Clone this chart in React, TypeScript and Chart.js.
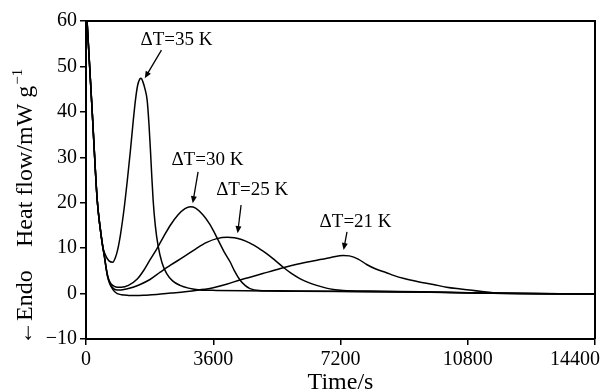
import { useEffect, useRef } from 'react';
import { Chart, registerables } from 'chart.js';

Chart.register(...registerables);

// Time (s) and heat flow (mW/g) for each undercooling ΔT
const t35 = [0, 50, 180, 317, 400, 475, 560, 650, 757, 830, 900, 980, 1075, 1170, 1258, 1330, 1399, 1460, 1520, 1560, 1610, 1670, 1730, 1780, 1823, 1860, 1899, 1960, 2040, 2150, 2283, 2450, 2660, 2900, 3225, 3700, 4500, 6000, 8000, 10000, 11500, 14400];
const hf35 = [64, 57.3, 39.4, 20.6, 14.5, 10.3, 8.3, 7.2, 6.9, 7.9, 9.8, 13.2, 18.5, 25, 31.6, 37.5, 42.6, 45.8, 47.2, 47.4, 46.6, 45, 42.6, 37.5, 31.6, 26, 20.6, 15, 10.5, 6.8, 4.4, 2.8, 1.8, 1.2, 0.8, 0.7, 0.6, 0.5, 0.4, 0.3, 0.1, -0.1];

const t30 = [0, 50, 180, 317, 400, 475, 523, 570, 616, 660, 712, 800, 886, 1000, 1200, 1450, 1650, 1810, 2000, 2200, 2400, 2600, 2800, 2960, 3100, 3300, 3500, 3600, 3750, 3900, 4075, 4200, 4356, 4500, 4640, 4900, 5500, 7000, 9000, 10500, 11500, 14400];
const hf30 = [64, 57.3, 39.4, 20.6, 14.5, 10.3, 8.1, 5.6, 3.8, 2.8, 2.1, 1.6, 1.4, 1.4, 1.8, 3.2, 5.3, 7.4, 9.8, 12.6, 15.2, 17.3, 18.7, 19.1, 18.8, 17.4, 15.3, 13.9, 11.6, 9.3, 7.0, 5.0, 3.0, 1.8, 1.1, 0.7, 0.6, 0.5, 0.4, 0.2, 0.05, -0.1];

const t25 = [0, 50, 180, 317, 400, 475, 523, 570, 616, 660, 712, 800, 886, 1000, 1200, 1500, 1810, 2100, 2400, 2750, 3100, 3400, 3700, 4000, 4200, 4400, 4640, 4900, 5110, 5350, 5580, 5800, 6050, 6300, 6525, 6800, 7000, 7280, 8000, 9500, 10800, 11500, 14400];
const hf25 = [64, 57.3, 39.4, 20.6, 14.5, 10.3, 8.1, 5.6, 3.7, 2.6, 1.7, 1.0, 0.8, 0.8, 1.1, 1.9, 3.1, 4.7, 6.3, 8.0, 9.8, 11.2, 12.1, 12.4, 12.3, 11.9, 11.1, 9.9, 8.8, 7.3, 5.8, 4.5, 3.3, 2.4, 1.8, 1.2, 0.9, 0.7, 0.55, 0.4, 0.2, 0.05, -0.1];

const t21 = [0, 50, 180, 317, 400, 475, 523, 570, 616, 660, 712, 800, 886, 1000, 1200, 1400, 1700, 2000, 2400, 2800, 3200, 3600, 4000, 4356, 4640, 5000, 5500, 6000, 6500, 6900, 7280, 7450, 7700, 7940, 8200, 8500, 8700, 9000, 9400, 9825, 10200, 10600, 11150, 11700, 12500, 13500, 14400];
const hf21 = [64, 57.3, 39.4, 20.6, 14.5, 10.3, 8.1, 5.5, 3.5, 2.4, 1.5, 0.5, 0.0, -0.25, -0.4, -0.45, -0.35, -0.2, 0.1, 0.4, 0.8, 1.3, 2.1, 3.0, 3.6, 4.4, 5.5, 6.5, 7.3, 7.9, 8.4, 8.3, 7.6, 6.4, 5.4, 4.6, 4.0, 3.3, 2.6, 2.0, 1.4, 1.0, 0.5, 0.1, 0, -0.05, -0.1];

const xTicks = [0, 3600, 7200, 10800, 14400];
const yTicks = [-10, 0, 10, 20, 30, 40, 50, 60];

const seriesNames = ['ΔT=35 K', 'ΔT=30 K', 'ΔT=25 K', 'ΔT=21 K'];
const seriesTimes = [t35, t30, t25, t21];
const seriesValues = [hf35, hf30, hf25, hf21];

// label anchor (data units) and arrow from/to (data units)
const labelX = [2560, 3434, 4700, 7626];
const labelY = [54.7, 28.3, 21.7, 14.7];
const arrowFromX = [2134, 3171, 4387, 7383];
const arrowFromY = [53.6, 26.8, 19.5, 13.6];
const arrowToX = [1662, 3019, 4290, 7287];
const arrowToY = [47.4, 19.9, 13.3, 9.6];

const xTitle = 'Time/s';
const yTitleLeft = '←Endo';
const yTitleMain = 'Heat flow/mW g';
const yTitleSup = '−1';

const FONT = '"Liberation Serif", "Times New Roman", serif';

const decorPlugin = {
  id: 'decor',
  afterDraw(chart: any) {
    const { ctx, chartArea, scales } = chart;
    const x = scales.x;
    const y = scales.y;
    ctx.save();
    ctx.strokeStyle = '#000';
    ctx.fillStyle = '#000';
    // top & right frame
    ctx.lineWidth = 2;
    ctx.beginPath();
    ctx.moveTo(chartArea.left, chartArea.top);
    ctx.lineTo(chartArea.right, chartArea.top);
    ctx.lineTo(chartArea.right, chartArea.bottom);
    ctx.stroke();

    // x tick labels (kept inside the canvas like the reference)
    ctx.font = `20px ${FONT}`;
    ctx.textAlign = 'center';
    ctx.textBaseline = 'alphabetic';
    const maxRight = chart.width - 5;
    for (const v of xTicks) {
      const txt = String(v);
      const w = ctx.measureText(txt).width;
      let px = x.getPixelForValue(v);
      if (px + w / 2 > maxRight) px = maxRight - w / 2;
      ctx.fillText(txt, px, 365);
    }

    // annotations
    ctx.font = `19px ${FONT}`;
    for (let i = 0; i < seriesNames.length; i++) {
      ctx.fillText(seriesNames[i], x.getPixelForValue(labelX[i]), y.getPixelForValue(labelY[i]));
      const x1 = x.getPixelForValue(arrowFromX[i]);
      const y1 = y.getPixelForValue(arrowFromY[i]);
      const x2 = x.getPixelForValue(arrowToX[i]);
      const y2 = y.getPixelForValue(arrowToY[i]);
      const ang = Math.atan2(y2 - y1, x2 - x1);
      const L = 7, W = 3;
      const c = Math.cos(ang), s = Math.sin(ang);
      ctx.lineWidth = 1.3;
      ctx.beginPath();
      ctx.moveTo(x1, y1);
      ctx.lineTo(x2 - L * 0.6 * c, y2 - L * 0.6 * s);
      ctx.stroke();
      ctx.beginPath();
      ctx.moveTo(x2, y2);
      ctx.lineTo(x2 - L * c + W * s, y2 - L * s - W * c);
      ctx.lineTo(x2 - L * c - W * s, y2 - L * s + W * c);
      ctx.closePath();
      ctx.fill();
    }

    // x title
    ctx.font = `24px ${FONT}`;
    ctx.textAlign = 'center';
    ctx.fillText(xTitle, (chartArea.left + chartArea.right) / 2, 389);

    // y title (rotated)
    ctx.translate(32, 345);
    ctx.rotate(-Math.PI / 2);
    ctx.textAlign = 'left';
    ctx.fillText(yTitleLeft, 0, 0);
    ctx.fillText(yTitleMain, 98, 0);
    const w = ctx.measureText(yTitleMain).width;
    ctx.font = `15px ${FONT}`;
    ctx.fillText(yTitleSup, 98 + w + 1, -10);
    ctx.restore();
  },
};

export default function App() {
  const ref = useRef<HTMLCanvasElement | null>(null);

  useEffect(() => {
    if (!ref.current) return;
    const datasets = seriesNames.map((name, i) => ({
      label: name,
      data: seriesTimes[i].map((t, j) => ({ x: t, y: seriesValues[i][j] })),
      borderColor: '#000',
      borderWidth: 1.5,
      pointRadius: 0,
      fill: false,
      cubicInterpolationMode: 'monotone' as const,
      clip: 0,
    }));
    const chart = new Chart(ref.current, {
      type: 'line',
      data: { datasets },
      plugins: [decorPlugin],
      options: {
        animation: false,
        responsive: true,
        maintainAspectRatio: false,
        layout: { padding: { top: 21, right: 10, left: 0, bottom: 0 } },
        plugins: { legend: { display: false }, tooltip: { enabled: false } },
        scales: {
          x: {
            type: 'linear',
            min: 0,
            max: 14400,
            afterBuildTicks: (s: any) => {
              s.ticks = xTicks.map((v) => ({ value: v }));
            },
            afterFit: (s: any) => {
              s.height = 53;
              s.paddingLeft = 0;
              s.paddingRight = 0;
            },
            ticks: {
              display: false,
              autoSkip: false,
              maxRotation: 0,
            },
            grid: { display: true, drawOnChartArea: false, drawTicks: true, tickLength: 6, color: '#000', lineWidth: 1.5 },
            border: { display: true, color: '#000', width: 2 },
          },
          y: {
            type: 'linear',
            min: -10,
            max: 60,
            afterBuildTicks: (s: any) => {
              s.ticks = yTicks.map((v) => ({ value: v }));
            },
            afterFit: (s: any) => {
              s.width = 86;
              s.paddingTop = 0;
              s.paddingBottom = 0;
            },
            ticks: {
              color: '#000',
              font: { family: FONT, size: 20 },
              padding: 3,
              autoSkip: false,
              callback: (v: any) => (Number(v) < 0 ? '−' + Math.abs(Number(v)) : String(v)),
            },
            grid: { display: true, drawOnChartArea: false, drawTicks: true, tickLength: 6, color: '#000', lineWidth: 1.5 },
            border: { display: true, color: '#000', width: 2 },
          },
        },
      },
    });
    return () => chart.destroy();
  }, []);

  return (
    <div style={{ position: 'fixed', left: 0, top: 0, width: 605, height: 392, background: '#fff' }}>
      <canvas ref={ref} />
    </div>
  );
}
